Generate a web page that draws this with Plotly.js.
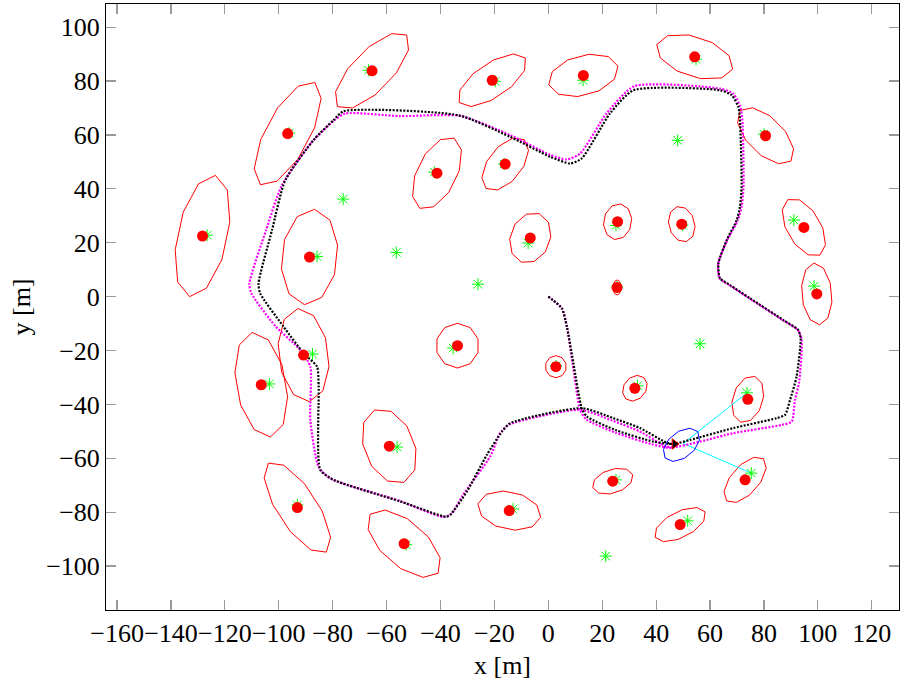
<!DOCTYPE html>
<html><head><meta charset="utf-8">
<script src="https://cdn.plot.ly/plotly-3.0.1.min.js"></script>
<style>body{margin:0;background:#fff}#plot{width:900px;height:688px}</style>
</head><body><div id="plot"></div>
<script>
// Estimated landmark positions (red dots)
const lmEstX = [-128.3,-96.7,-65.4,-20.8,13.0,54.3,80.6,-41.3,-16.0,-88.6,-6.7,25.7,49.5,94.8,99.6,25.5,-90.8,-106.5,-33.7,2.8,32.1,74.0,-59.0,23.9,73.0,-93.1,-14.5,-53.5,48.9];
const lmEstY = [22.5,60.5,83.8,80.3,82.1,89.0,59.7,45.8,49.2,14.7,21.8,27.8,26.9,25.7,1.0,3.4,-21.7,-32.7,-18.2,-26.0,-34.0,-38.1,-55.5,-68.5,-68.0,-78.3,-79.4,-91.7,-84.6];
// Covariance ellipses: semi-major, semi-minor [m], orientation [deg]
const ellA = [23.0,21.5,18.5,14.8,13.3,14.8,13.3,14.5,11.5,17.8,9.6,6.7,6.7,11.9,11.5,2.8,17.4,19.7,8.3,4.1,5.2,8.9,14.5,7.8,10.4,19.7,11.9,16.7,10.4];
const ellB = [9.3,8.2,7.4,6.3,7.4,7.4,6.7,7.4,6.3,10.4,7.4,5.2,4.8,6.3,5.6,1.5,9.3,9.3,8.0,3.9,4.1,5.6,9.3,4.4,5.2,7.4,7.0,8.2,4.8];
const ellAng = [78,62,46,34,15,-18,-45,64,52,84,70,80,105,120,95,90,97,100,90,90,50,73,112,18,49,123,-12,-41,27];
// True landmark positions (green asterisks)
const lmTrueX = [-126.6,-96.1,-66.7,-19.7,12.9,54.8,80.0,-42.3,-16.4,-85.8,-7.5,25.1,49.8,91.1,98.6,25.5,-87.5,-103.5,-35.3,2.9,33.1,73.7,-56.1,25.1,75.3,-93.1,-13.1,-52.7,51.7,-76.1,-56.4,-26.1,48.0,56.3,21.3];
const lmTrueY = [22.8,60.7,84.0,79.9,80.3,88.1,60.3,46.2,49.2,14.9,19.9,26.4,26.5,28.4,3.9,3.6,-21.3,-32.4,-19.1,-25.7,-33.1,-35.7,-55.8,-68.0,-65.5,-77.3,-78.8,-92.1,-83.2,36.2,16.4,4.6,58.0,-17.5,-96.3];
// Estimated robot path (black)
const estPathX = [0,5.0,6.9,9.3,12.4,14.3,25.4,39.0,46.3,52.5,68.6,84.7,87.8,89.7,92.1,93.6,92.7,87.2,74.8,67.4,63.7,63.1,66.2,69.9,71.1,71.7,71.1,70.5,68.0,63.7,31.6,22.9,12.4,8.1,0.7,-14.2,-33.3,-76.0,-79.7,-87.1,-97.6,-102.5,-107.5,-106.9,-98.2,-90.8,-85.8,-85.2,-84.6,-79.7,-54.9,-37.9,-36.4,-30.2,-22.8,-17.2,-14.2,12.4,24.1,34.0,43.9,46.3];
const estPathY = [0,-4.3,-11.2,-24.7,-41.4,-44.5,-49.7,-53.8,-54.7,-53.2,-48.8,-45.1,-43.9,-38.3,-29.7,-15.5,-12.4,-8.7,-0.6,4.3,6.8,12.3,21.0,28.4,33.3,40.7,65.5,70.4,74.8,76.6,76.6,68.0,51.3,49.4,51.9,59.3,67.3,68.8,65.5,58.1,43.2,24.7,4.9,1.2,-11.2,-21.0,-26.0,-33.4,-64.3,-68.0,-76.0,-81.7,-81.0,-72.3,-58.7,-50.1,-47.0,-41.4,-45.1,-48.8,-54.2,-54.7];
// True robot path (magenta)
const truePathX = [0,5.0,6.9,9.0,11.8,14.0,25.0,38.5,45.1,56.3,68.5,86.6,90.3,91.5,93.0,94.0,92.6,87.2,74.8,67.4,63.5,63.0,66.4,70.3,71.7,72.4,72.0,71.2,68.6,63.7,31.9,21.7,11.8,6.9,0.7,-14.2,-32.8,-55.0,-75.3,-79.3,-87.6,-99.0,-104.7,-110.9,-110.2,-101.3,-92.0,-88.3,-88.3,-85.2,-80.8,-55.2,-38.9,-35.8,-32.1,-21.6,-17.9,-14.6,11.8,23.7,33.8,43.5,46.0];
const truePathY = [0,-4.3,-11.2,-24.7,-42.0,-45.5,-50.5,-54.8,-56.1,-53.8,-50.7,-47.6,-46.4,-38.3,-32.0,-16.1,-12.4,-8.9,-0.8,4.1,6.8,12.3,21.0,28.4,33.3,40.7,65.5,70.6,75.3,77.2,78.1,68.1,53.1,50.9,52.6,60.0,67.1,67.0,68.0,65.5,57.5,41.0,24.7,4.9,1.3,-10.9,-19.8,-26.0,-45.8,-63.2,-67.5,-75.8,-81.8,-80.5,-74.2,-59.4,-50.7,-47.5,-42.0,-46.0,-50.0,-55.5,-56.0];
// Current robot pose estimate and its covariance ellipse
const robotX = [46.8];
const robotY = [-54.7];
const robotEll = {x: 49.4, y: -55.0, a: 7.8, b: 4.8, ang: 39};
// Current observations (robot -> landmark)
const obsFromX = 50.0, obsFromY = -54.5;
const obsToX = [73.7, 75.3];
const obsToY = [-35.7, -65.5];

const tickX = [-160,-140,-120,-100,-80,-60,-40,-20,0,20,40,60,80,100,120];
const tickY = [-100,-80,-60,-40,-20,0,20,40,60,80,100];

function ellipsePts(cx, cy, a, b, angDeg, n) {
  const xs = [], ys = [];
  const t = angDeg * Math.PI / 180;
  for (let i = 0; i <= n; i++) {
    const p = 2 * Math.PI * i / n;
    const ex = a * Math.cos(p), ey = b * Math.sin(p);
    xs.push(cx + ex * Math.cos(t) - ey * Math.sin(t));
    ys.push(cy + ex * Math.sin(t) + ey * Math.cos(t));
  }
  return [xs, ys];
}

const ex = [], ey = [];
for (let i = 0; i < lmEstX.length; i++) {
  const [xs, ys] = ellipsePts(lmEstX[i], lmEstY[i], ellA[i], ellB[i], ellAng[i], 10);
  ex.push(...xs, null); ey.push(...ys, null);
}
const [bx, by] = ellipsePts(robotEll.x, robotEll.y, robotEll.a, robotEll.b, robotEll.ang, 10);

const ox = [], oy = [];
for (let i = 0; i < obsToX.length; i++) { ox.push(obsFromX, obsToX[i], null); oy.push(obsFromY, obsToY[i], null); }

const font = 'Liberation Serif';
const traces = [
  {x: ex, y: ey, mode: 'lines', line: {color: '#ff0000', width: 1}, hoverinfo: 'skip'},
  {x: ox, y: oy, mode: 'lines', line: {color: '#00ffff', width: 1}},
  {x: truePathX, y: truePathY, mode: 'lines', line: {color: '#ff00ff', width: 2.2, dash: '2px,1.5px', shape: 'spline', smoothing: 0.6}},
  {x: estPathX, y: estPathY, mode: 'lines', line: {color: '#000000', width: 2.2, dash: '2px,1.5px', shape: 'spline', smoothing: 0.6}},
  {x: bx, y: by, mode: 'lines', line: {color: '#0000ff', width: 1}},
  {x: lmTrueX, y: lmTrueY, mode: 'markers', marker: {symbol: 'asterisk-open', size: 10, color: '#00ff00', line: {color: '#00ff00', width: 1}}},
  {x: lmEstX, y: lmEstY, mode: 'markers', marker: {symbol: 'circle', size: 11, color: '#ff0000'}},
  {x: robotX, y: robotY, mode: 'markers', marker: {symbol: 'triangle-right', size: 9, color: '#000000', line: {color: '#ff0000', width: 1}}}
];

const axCommon = {
  ticks: 'inside', ticklen: 10, tickwidth: 1.2, tickcolor: '#9a9a9a',
  showline: true, linecolor: '#000', linewidth: 1, mirror: 'ticks',
  showgrid: false, zeroline: false, tickangle: 0,
  tickfont: {family: font, size: 26, color: '#000'}
};
const layout = {
  width: 900, height: 688,
  margin: {l: 106, r: 1, t: 4, b: 78},
  paper_bgcolor: '#fff', plot_bgcolor: '#fff',
  showlegend: false,
  font: {family: font, color: '#000'},
  xaxis: Object.assign({}, axCommon, {range: [-164.1, 130.1], tickmode: 'array', tickvals: tickX,
    title: {text: 'x [m]', font: {family: font, size: 26, color: '#000'}, standoff: 8}}),
  yaxis: Object.assign({}, axCommon, {range: [-116.3, 108.6], tickmode: 'array', tickvals: tickY,
    title: {text: 'y [m]', font: {family: font, size: 26, color: '#000'}, standoff: 8}})
};
Plotly.newPlot('plot', traces, layout, {displayModeBar: false, staticPlot: true});
</script>
</body></html>
